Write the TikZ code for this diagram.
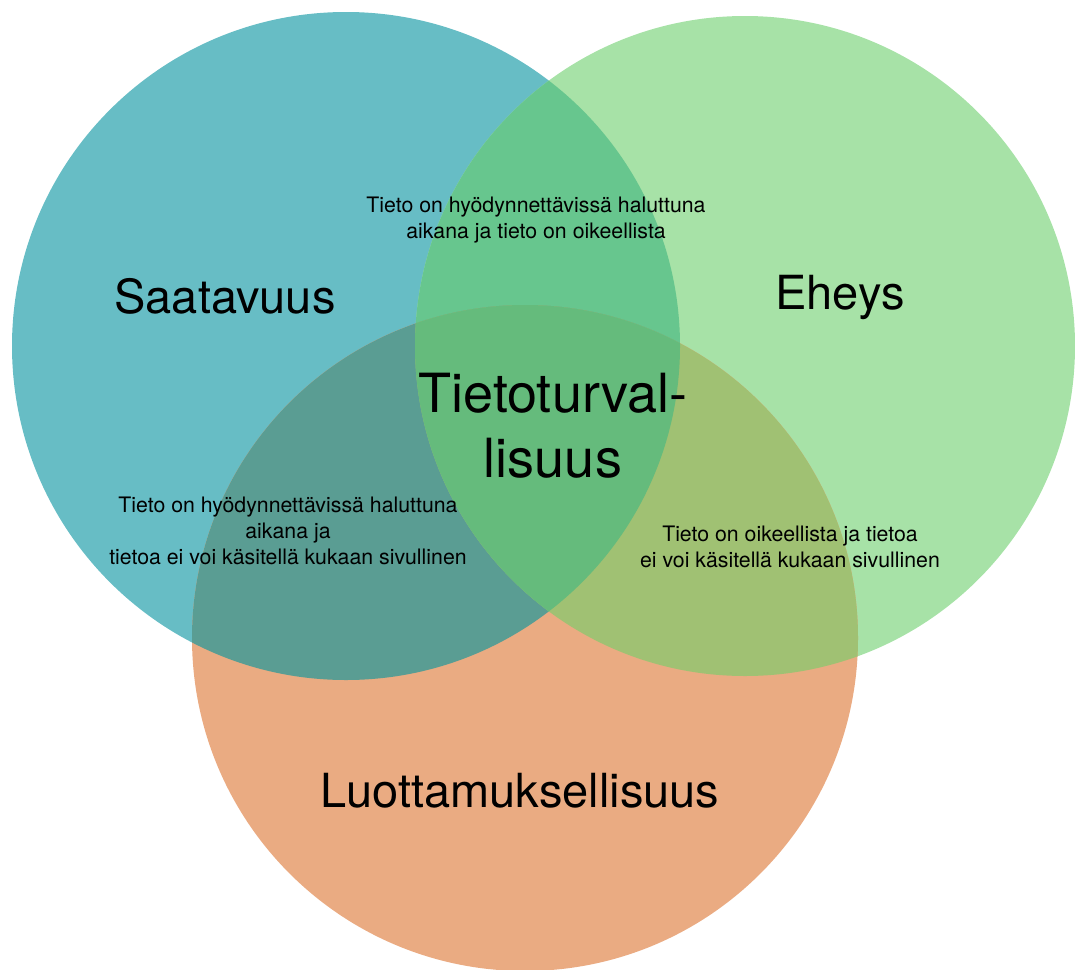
\documentclass[tikz,border=0pt]{standalone}
\usepackage{fontspec}
\setmainfont{TeX Gyre Heros}
\definecolor{cA}{HTML}{67BDC5}
\definecolor{cB}{HTML}{A7E2A7}
\definecolor{cC}{HTML}{EAAB82}
\definecolor{cAB}{HTML}{67C68E}
\definecolor{cAC}{HTML}{5A9D93}
\definecolor{cBC}{HTML}{A0C173}
\definecolor{cABC}{HTML}{65BB7C}
\begin{document}
\begin{tikzpicture}[x=1pt,y=-1pt,
  small/.style={align=center,font=\fontsize{21.3}{26}\selectfont,inner sep=0pt},
  big/.style={align=center,font=\fontsize{47}{54}\selectfont,inner sep=0pt},
  huge/.style={align=center,font=\fontsize{54}{65}\selectfont,inner sep=0pt}]
\useasboundingbox (0,0) rectangle (1075,969);
\def\circA{(346,346) circle[radius=334]}
\def\circB{(745,346) circle[radius=330]}
\def\circC{(525,638) circle[radius=333]}
\fill[cA] \circA;
\fill[cB] \circB;
\fill[cC] \circC;
\begin{scope}\clip \circA; \fill[cAB] \circB; \end{scope}
\begin{scope}\clip \circA; \fill[cAC] \circC; \end{scope}
\begin{scope}\clip \circB; \fill[cBC] \circC; \end{scope}
\begin{scope}\clip \circA; \clip \circB; \fill[cABC] \circC; \end{scope}
\node[big] (saat) at (225,296) {Saatavuus};
\node[big] (eheys) at (840,297) {Eheys};
\node[big] (luot) at (520,791) {Luottamuksellisuus};
\node[huge] (tt) at (553,426) {Tietoturval-\\lisuus};
\node[small] (ab) at (536,220) {Tieto on hyödynnettävissä haluttuna\\aikana ja tieto on oikeellista};
\node[small] (ac) at (288,531) {Tieto on hyödynnettävissä haluttuna\\aikana ja\\tietoa ei voi käsitellä kukaan sivullinen};
\node[small] (bc) at (790,547) {Tieto on oikeellista ja tietoa\\ei voi käsitellä kukaan sivullinen};
\end{tikzpicture}
\end{document}
